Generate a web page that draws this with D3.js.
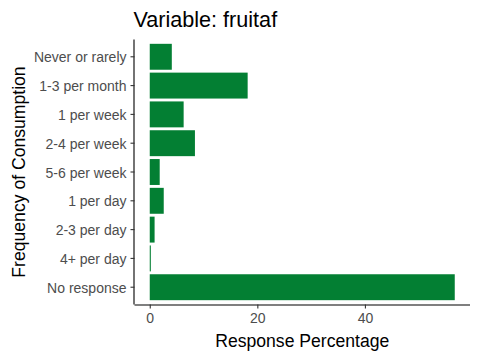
<!DOCTYPE html>
<html><head><meta charset="utf-8">
<script src="https://cdn.jsdelivr.net/npm/d3@7"></script>
<style>body{margin:0;background:#fff;} text{font-family:"Liberation Sans",Arial,sans-serif;}</style>
</head><body>
<svg id="c" width="480" height="360"></svg>
<script>
const categories = ["Never or rarely","1-3 per month","1 per week","2-4 per week","5-6 per week","1 per day","2-3 per day","4+ per day","No response"];
const values = [4.1, 18.2, 6.3, 8.4, 1.85, 2.6, 0.9, 0.2, 56.7];
const xTicks = [0, 20, 40];
const titleText = "Variable: fruitaf";
const xLabel = "Response Percentage";
const yLabel = "Frequency of Consumption";

const svg = d3.select("#c");
const pL = 134.5, pR = 470, pT = 39.5, pB = 304.5;
const maxV = d3.max(values);
const x = d3.scaleLinear().domain([-0.05*maxV, maxV*1.05]).range([pL, pR]);
const y = d3.scaleBand().domain(categories).range([pT, pB]).paddingInner(0.1).paddingOuter(0.15);

svg.append("g").selectAll("rect").data(values).join("rect")
  .attr("x", x(0))
  .attr("y", (d,i) => y(categories[i]))
  .attr("width", d => x(d) - x(0))
  .attr("height", y.bandwidth())
  .attr("fill", "#037f33");

const xAxis = svg.append("g").attr("transform", `translate(0,${pB})`)
  .call(d3.axisBottom(x).tickValues(xTicks).tickSize(4).tickPadding(5).tickSizeOuter(0));
const yAxis = svg.append("g").attr("transform", `translate(${pL},0)`)
  .call(d3.axisLeft(y).tickSize(4).tickPadding(4).tickSizeOuter(0));
[xAxis, yAxis].forEach(a => {
  a.select(".domain").attr("stroke", "#000").attr("stroke-width", 1.1);
  a.selectAll(".tick line").attr("stroke", "#333").attr("stroke-width", 1.1);
  a.selectAll(".tick text").attr("fill", "#4d4d4d").style("font-size", "14px").style("font-family", "'Liberation Sans',Arial,sans-serif");
});
yAxis.selectAll(".tick text").attr("dy", "0.4em");
xAxis.select(".domain").attr("d", `M${pL},0.5H${pR}`);
yAxis.select(".domain").attr("d", `M-0.5,${pT}V${pB}`);

svg.append("text").attr("x", pL - 1).attr("y", 27).attr("font-size", 21.6).attr("fill", "#000").text(titleText);
svg.append("text").attr("x", (pL+pR)/2).attr("y", 347).attr("text-anchor", "middle").attr("font-size", 17.6).attr("fill", "#000").text(xLabel);
svg.append("text").attr("transform", `translate(25,${(pT+pB)/2}) rotate(-90)`).attr("text-anchor", "middle").attr("font-size", 17.6).attr("fill", "#000").text(yLabel);
</script>
</body></html>
